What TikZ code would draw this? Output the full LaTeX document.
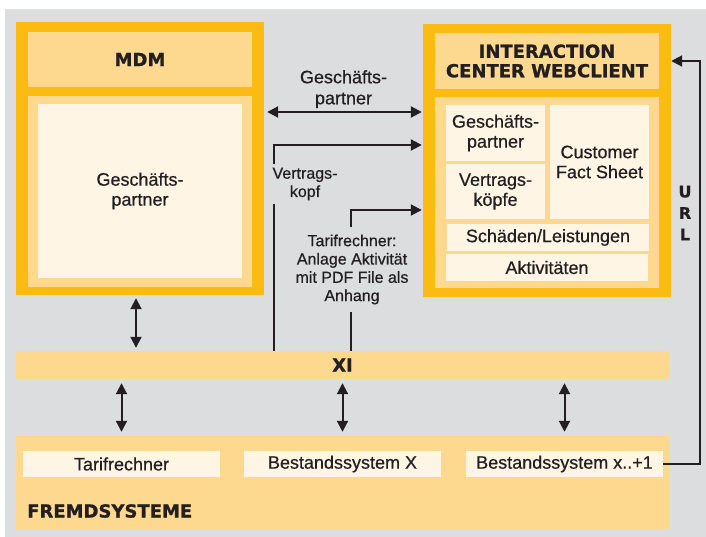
\documentclass[tikz,border=0pt]{standalone}
\usepackage{fontspec}
\setmainfont{Liberation Sans}[FakeBold=0.6]
\newfontfamily\headfont{DejaVu Sans}[BoldFeatures={FakeBold=1}]
\usepackage{xcolor}
\usetikzlibrary{arrows.meta,positioning}

\definecolor{bggray}{RGB}{220,221,223}
\definecolor{boxorange}{RGB}{252,187,19}
\definecolor{boxlight}{RGB}{253,217,143}
\definecolor{boxcream}{RGB}{254,245,229}
\definecolor{inkdark}{RGB}{35,31,32}

\begin{document}
\begin{tikzpicture}[
    x=1pt, y=-1pt,
    frame/.style={
        rectangle,
        fill=boxorange,
        inner sep=0pt
    },
    panel/.style={
        rectangle,
        fill=boxlight,
        inner sep=0pt,
        text=inkdark
    },
    cell/.style={
        rectangle,
        fill=boxcream,
        inner sep=0pt,
        text=inkdark,
        align=center,
        font=\fontsize{18}{20}\selectfont
    },
    head/.style={font=\headfont\bfseries\fontsize{18}{19.5}\selectfont, text=inkdark, align=center},
    note/.style={font=\fontsize{16}{18.3}\selectfont, text=inkdark, align=center, fill=bggray, inner sep=3pt},
    wire/.style={line width=2pt, draw=inkdark},
    arrow/.style={-{Triangle[length=11pt,width=11pt]}, wire},
    dblarrow/.style={{Triangle[length=11pt,width=11pt]}-{Triangle[length=11pt,width=11pt]}, wire}
]

% Background
\useasboundingbox (0,0) rectangle (706,537);
\fill[bggray] (5,9) rectangle (706,537);

% MDM
\node[frame, minimum width=248pt, minimum height=273pt] (mdm) at (140,158.5) {};
\node[panel, head, minimum width=224pt, minimum height=55pt] (mdmhead) at (140,59.5) {MDM};
\node[panel, minimum width=224pt, minimum height=191pt] (mdmbody) at (140,191.5) {};
\node[cell, minimum width=204pt, minimum height=174pt] (mdmgp) at (140,191) {Geschäfts-\\partner};

% Interaction Center WebClient
\node[frame, minimum width=248pt, minimum height=273pt] (icw) at (547,160.5) {};
\node[panel, head, minimum width=224pt, minimum height=56pt] (icwhead) at (547,61) {INTERACTION\\CENTER WEBCLIENT};
\node[panel, minimum width=224pt, minimum height=191pt] (icwbody) at (547,192.5) {};
\node[cell, minimum width=99pt, minimum height=56pt] (icwgp) at (495.5,133) {Geschäfts-\\partner};
\node[cell, minimum width=99pt, minimum height=55pt] (icwvk) at (495.5,191.5) {Vertrags-\\köpfe};
\node[cell, minimum width=99pt, minimum height=114pt] (icwcfs) at (599.5,162) {Customer\\Fact Sheet};
\node[cell, minimum width=202pt, minimum height=27pt] (icwsl) at (548,237.5) {Schäden/Leistungen};
\node[cell, minimum width=202pt, minimum height=27pt] (icwakt) at (547,267.5) {Aktivitäten};

% XI and Fremdsysteme
\node[panel, head, minimum width=653pt, minimum height=28pt] (xi) at (342.5,365) {XI};
\node[panel, minimum width=653pt, minimum height=94pt] (fremd) at (342.5,482) {};
\node[cell, minimum width=197pt, minimum height=26pt] (tarif) at (121.5,464) {Tarifrechner};
\node[cell, minimum width=197pt, minimum height=26pt] (bsx) at (342.5,464) {Bestandssystem X};
\node[cell, minimum width=197pt, minimum height=26pt] (bsxone) at (564.5,464) {Bestandssystem x..+1};
\node[head, inner sep=0pt, anchor=west] (fremdlabel) at (27,511) {FREMDSYSTEME};

% Vertical connections
\draw[dblarrow, shorten <=3pt, shorten >=3pt] ([xshift=-4pt]mdm.south) -- ([xshift=-4pt]mdm.south |- xi.north);
\foreach \sys in {tarif,bsx,bsxone}
    \draw[dblarrow, shorten <=4pt, shorten >=3pt] (\sys |- xi.south) -- (\sys |- fremd.north);

% Geschaeftspartner exchange
\coordinate (gpy) at (0,112);
\draw[dblarrow, shorten <=3pt, shorten >=1pt] (mdm.east |- gpy) -- node[note, font=\fontsize{18}{21}\selectfont, above] (gplabel) {Geschäfts-\\partner} (icw.west |- gpy);

% Vertragskopf
\node[note] (vklabel) at (305,184) {Vertrags-\\kopf};
\coordinate (vktop) at (274,145);
\draw[wire] (xi.north -| vktop) -- (vklabel.south -| vktop);
\draw[arrow, shorten >=1pt] (vklabel.north -| vktop) -- (vktop) -- (icw.west |- vktop);

% Tarifrechner attachment
\node[note, inner ysep=7pt] (tflabel) at (352,269.5) {Tarifrechner:\\Anlage Aktivität\\mit PDF File als\\Anhang};
\coordinate (tftop) at (351,210);
\draw[wire] (xi.north -| tftop) -- (tflabel.south -| tftop);
\draw[arrow, shorten >=1pt] (tflabel.north -| tftop) -- (tftop) -- (icw.west |- tftop);

% URL return path
\coordinate (urlbend) at (700,61);
\draw[arrow] (bsxone.east) -| (urlbend) -- (icw.east |- urlbend);
\node[head, font=\headfont\bfseries\fontsize{16}{21.5}\selectfont] (url) at (685,213) {U\\R\\L};

\end{tikzpicture}
\end{document}
